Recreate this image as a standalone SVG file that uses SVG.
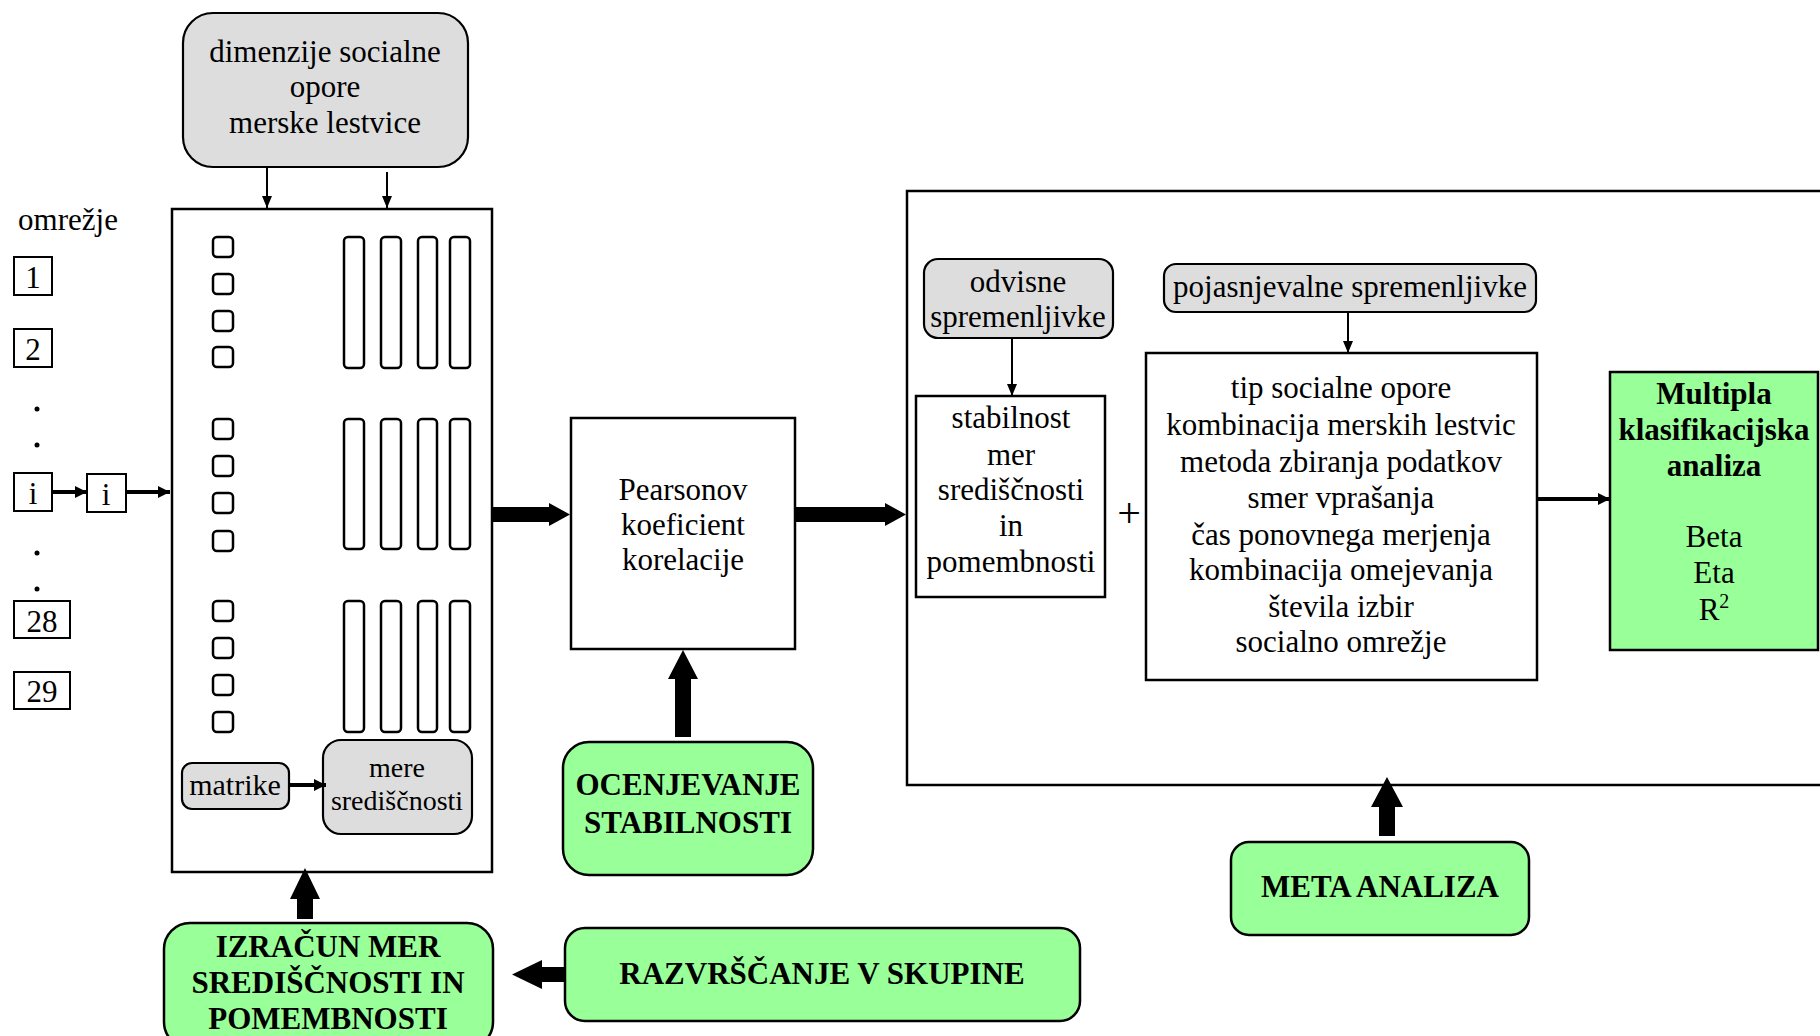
<svg xmlns="http://www.w3.org/2000/svg" width="1820" height="1036" viewBox="0 0 1820 1036">
<defs>
<style>
text{font-family:"Liberation Serif","Times New Roman",serif;font-size:31px;fill:#000;text-anchor:middle}
.b{font-weight:bold}
.box{fill:#fff;stroke:#000;stroke-width:2.5}
.grey{fill:#dddddd;stroke:#000;stroke-width:2.2}
.green{fill:#99ff99;stroke:#000;stroke-width:2.5}
.cell{fill:#fff;stroke:#000;stroke-width:2.5}
.thin{stroke:#000;stroke-width:2;fill:none}
.med{stroke:#000;stroke-width:4;fill:none}
.blk{fill:#000;stroke:none}
</style>
<marker id="ah" markerUnits="userSpaceOnUse" viewBox="0 0 12 10" markerWidth="12" markerHeight="10" refX="12" refY="5" orient="auto"><path d="M0,0 L12,5 L0,10 z" fill="#000"/></marker>
<marker id="ahm" markerUnits="userSpaceOnUse" viewBox="0 0 12 12" markerWidth="12" markerHeight="12" refX="12" refY="6" orient="auto"><path d="M0,0 L12,6 L0,12 z" fill="#000"/></marker>
</defs>
<rect width="1820" height="1036" fill="#fff"/>

<g id="meta-frame"><rect class="box" x="907" y="191" width="930" height="594"/></g>

<g id="dimenzije">
<rect class="grey" x="183" y="13" width="285" height="154" rx="30"/>
<text x="325" y="62">dimenzije socialne</text>
<text x="325" y="97">opore</text>
<text x="325" y="133">merske lestvice</text>
</g>

<g id="omrezje">
<text x="68" y="230">omrežje</text>
<rect class="box" x="14" y="257" width="38" height="38" style="stroke-width:2"/><text x="33" y="288">1</text>
<rect class="box" x="14" y="329" width="38" height="38" style="stroke-width:2"/><text x="33" y="360">2</text>
<circle cx="37" cy="409" r="2.5"/><circle cx="37" cy="445" r="2.5"/>
<rect class="box" x="14" y="473" width="38" height="38" style="stroke-width:2"/><text x="33" y="504">i</text>
<circle cx="37" cy="553" r="2.5"/><circle cx="37" cy="589" r="2.5"/>
<rect class="box" x="14" y="601" width="56" height="37" style="stroke-width:2"/><text x="42" y="632">28</text>
<rect class="box" x="14" y="672" width="56" height="37" style="stroke-width:2"/><text x="42" y="702">29</text>
</g>
<g id="i2"><rect class="box" x="87" y="474" width="39" height="38" style="stroke-width:2"/><text x="106" y="505">i</text></g>

<g id="main-box">
<rect class="box" x="172" y="209" width="320" height="663"/>
<g id="cells">
<rect class="cell" x="213" y="237" width="20" height="20" rx="4"/>
<rect class="cell" x="213" y="274" width="20" height="20" rx="4"/>
<rect class="cell" x="213" y="311" width="20" height="20" rx="4"/>
<rect class="cell" x="213" y="347" width="20" height="20" rx="4"/>
<rect class="cell" x="213" y="419" width="20" height="20" rx="4"/>
<rect class="cell" x="213" y="456" width="20" height="20" rx="4"/>
<rect class="cell" x="213" y="493" width="20" height="20" rx="4"/>
<rect class="cell" x="213" y="531" width="20" height="20" rx="4"/>
<rect class="cell" x="213" y="601" width="20" height="20" rx="4"/>
<rect class="cell" x="213" y="638" width="20" height="20" rx="4"/>
<rect class="cell" x="213" y="675" width="20" height="20" rx="4"/>
<rect class="cell" x="213" y="712" width="20" height="20" rx="4"/>
<rect class="cell" x="344" y="237" width="20" height="131" rx="4"/>
<rect class="cell" x="381" y="237" width="20" height="131" rx="4"/>
<rect class="cell" x="418" y="237" width="19" height="131" rx="4"/>
<rect class="cell" x="450" y="237" width="20" height="131" rx="4"/>
<rect class="cell" x="344" y="419" width="20" height="130" rx="4"/>
<rect class="cell" x="381" y="419" width="20" height="130" rx="4"/>
<rect class="cell" x="418" y="419" width="19" height="130" rx="4"/>
<rect class="cell" x="450" y="419" width="20" height="130" rx="4"/>
<rect class="cell" x="344" y="601" width="20" height="131" rx="4"/>
<rect class="cell" x="381" y="601" width="20" height="131" rx="4"/>
<rect class="cell" x="418" y="601" width="19" height="131" rx="4"/>
<rect class="cell" x="450" y="601" width="20" height="131" rx="4"/>
</g>
</g>
<g id="matrike"><rect class="grey" x="182" y="763" width="107" height="46" rx="10"/><text x="235" y="795" style="font-size:30px">matrike</text></g>
<g id="mere"><rect class="grey" x="323" y="740" width="149" height="94" rx="18"/><text x="397" y="777" style="font-size:28px">mere</text><text x="397" y="810" style="font-size:28px">središčnosti</text></g>

<g id="pearson"><rect class="box" x="571" y="418" width="224" height="231"/>
<text x="683" y="500">Pearsonov</text><text x="683" y="535">koeficient</text><text x="683" y="570">korelacije</text></g>

<g id="odvisne"><rect class="grey" x="924" y="259" width="189" height="79" rx="14"/>
<text x="1018" y="292">odvisne</text><text x="1018" y="327">spremenljivke</text></g>
<g id="stabilnost"><rect class="box" x="916" y="396" width="189" height="201"/>
<text x="1011" y="428">stabilnost</text><text x="1011" y="465">mer</text><text x="1011" y="500">središčnosti</text><text x="1011" y="536">in</text><text x="1011" y="572">pomembnosti</text></g>
<g id="plus"><text x="1129" y="527" style="font-size:42px">+</text></g>
<g id="pojasnjevalne"><rect class="grey" x="1164" y="264" width="372" height="48" rx="12"/><text x="1350" y="297">pojasnjevalne spremenljivke</text></g>
<g id="factors"><rect class="box" x="1146" y="353" width="391" height="327"/>
<text x="1341" y="398">tip socialne opore</text>
<text x="1341" y="435">kombinacija merskih lestvic</text>
<text x="1341" y="472">metoda zbiranja podatkov</text>
<text x="1341" y="508">smer vprašanja</text>
<text x="1341" y="545">čas ponovnega merjenja</text>
<text x="1341" y="580">kombinacija omejevanja</text>
<text x="1341" y="617">števila izbir</text>
<text x="1341" y="652">socialno omrežje</text></g>
<g id="mca"><rect class="green" x="1610" y="372" width="208" height="278"/>
<text class="b" x="1714" y="404">Multipla</text>
<text class="b" x="1714" y="440">klasifikacijska</text>
<text class="b" x="1714" y="476">analiza</text>
<text x="1714" y="547">Beta</text>
<text x="1714" y="583">Eta</text>
<text x="1714" y="620">R<tspan dy="-12" style="font-size:20px">2</tspan></text></g>

<g id="ocenjevanje"><rect class="green" x="563" y="742" width="250" height="133" rx="26"/>
<text class="b" x="688" y="795">OCENJEVANJE</text><text class="b" x="688" y="833">STABILNOSTI</text></g>
<g id="meta"><rect class="green" x="1231" y="842" width="298" height="93" rx="18"/>
<text class="b" x="1380" y="897">META ANALIZA</text></g>
<g id="izracun"><rect class="green" x="164" y="923" width="329" height="125" rx="26"/>
<text class="b" x="328" y="957">IZRAČUN MER</text><text class="b" x="328" y="993">SREDIŠČNOSTI IN</text><text class="b" x="328" y="1029">POMEMBNOSTI</text></g>
<g id="razvrscanje"><rect class="green" x="565" y="928" width="515" height="93" rx="20"/>
<text class="b" x="822" y="984">RAZVRŠČANJE V SKUPINE</text></g>

<g id="connectors">
<line class="thin" x1="267" y1="167" x2="267" y2="208" marker-end="url(#ah)"/>
<line class="thin" x1="387" y1="172" x2="387" y2="208" marker-end="url(#ah)"/>
<line class="med" x1="52" y1="492" x2="87" y2="492" marker-end="url(#ahm)"/>
<line class="med" x1="126" y1="492" x2="170" y2="492" marker-end="url(#ahm)"/>
<line class="med" x1="289" y1="785" x2="326" y2="785" marker-end="url(#ahm)"/>
<line class="thin" x1="1012" y1="338" x2="1012" y2="396" marker-end="url(#ah)"/>
<line class="thin" x1="1348" y1="312" x2="1348" y2="353" marker-end="url(#ah)"/>
<line class="med" x1="1537" y1="499" x2="1610" y2="499" marker-end="url(#ahm)"/>
<polygon class="blk" points="493,507 549,507 549,503 570,514.5 549,526 549,522 493,522"/>
<polygon class="blk" points="795,507 885,507 885,503 906,514.5 885,526 885,522 795,522"/>
<polygon class="blk" points="297,919 297,899 290,899 305,868 320,899 313,899 313,919"/>
<polygon class="blk" points="675,737 675,679 668,679 683,650 698,679 691,679 691,737"/>
<polygon class="blk" points="1379,836 1379,807 1371,807 1387,777 1403,807 1395,807 1395,836"/>
<polygon class="blk" points="565,967 542,967 542,960 512,974.5 542,989 542,982 565,982"/>
</g>
</svg>
